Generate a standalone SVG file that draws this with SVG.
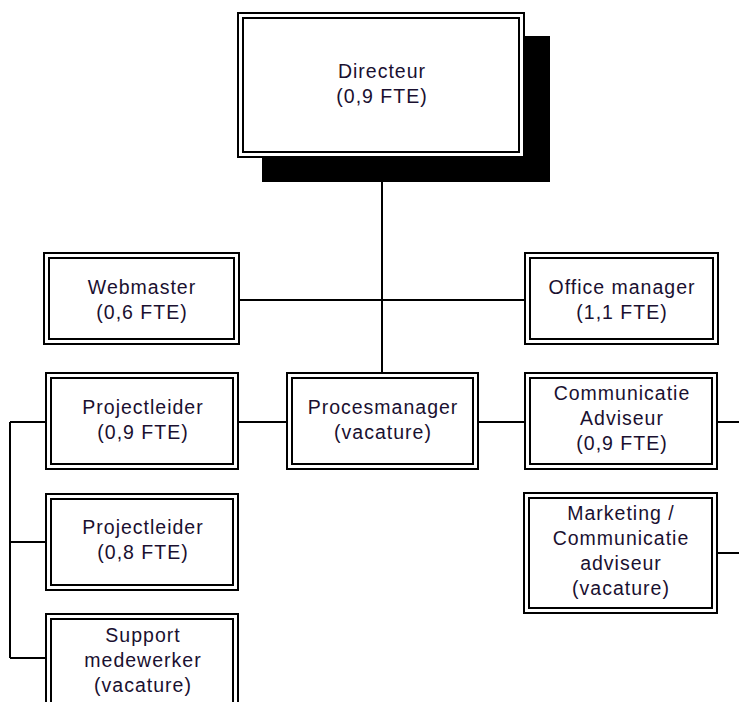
<svg xmlns="http://www.w3.org/2000/svg" width="739" height="702" viewBox="0 0 739 702">
<style>
.o{fill:#fff;stroke:#000;stroke-width:2}
.i{fill:none;stroke:#000;stroke-width:2}
.t{font-family:"Liberation Sans",Arial,sans-serif;font-size:19.5px;letter-spacing:1px;fill:#1a1030;text-anchor:middle}
.c{fill:none;stroke:#000;stroke-width:2}
</style>
<rect width="739" height="702" fill="#fff"/>
<g id="connectors">
<path class="c" d="M382 182V373M239 300H525M238 422H287M478 422H525M717 422H739M10 422H46M10 422V658M10 542H46M10 658H46M716 553H739"/>
</g>
<g id="directeur">
<rect x="262" y="36" width="288" height="146" fill="#000"/>
<rect class="o" x="238" y="13" width="286" height="144"/>
<rect class="i" x="243" y="18" width="276" height="134"/>
<text class="t" x="382" y="78">Directeur</text>
<text class="t" x="382" y="103">(0,9 FTE)</text>
</g>
<g id="webmaster">
<rect class="o" x="44" y="253" width="195" height="91"/>
<rect class="i" x="49" y="258" width="185" height="81"/>
<text class="t" x="142" y="294">Webmaster</text>
<text class="t" x="142" y="319">(0,6 FTE)</text>
</g>
<g id="officemanager">
<rect class="o" x="525" y="253" width="193" height="91"/>
<rect class="i" x="530" y="258" width="183" height="81"/>
<text class="t" x="622" y="294">Office manager</text>
<text class="t" x="622" y="319">(1,1 FTE)</text>
</g>
<g id="projectleider1">
<rect class="o" x="46" y="373" width="192" height="96"/>
<rect class="i" x="51" y="378" width="182" height="86"/>
<text class="t" x="143" y="414">Projectleider</text>
<text class="t" x="143" y="439">(0,9 FTE)</text>
</g>
<g id="procesmanager">
<rect class="o" x="287" y="373" width="191" height="96"/>
<rect class="i" x="292" y="378" width="181" height="86"/>
<text class="t" x="383" y="414">Procesmanager</text>
<text class="t" x="383" y="439">(vacature)</text>
</g>
<g id="communicatie">
<rect class="o" x="525" y="373" width="192" height="96"/>
<rect class="i" x="530" y="378" width="182" height="86"/>
<text class="t" x="622" y="400">Communicatie</text>
<text class="t" x="622" y="425">Adviseur</text>
<text class="t" x="622" y="450">(0,9 FTE)</text>
</g>
<g id="projectleider2">
<rect class="o" x="46" y="494" width="192" height="96"/>
<rect class="i" x="51" y="499" width="182" height="86"/>
<text class="t" x="143" y="534">Projectleider</text>
<text class="t" x="143" y="559">(0,8 FTE)</text>
</g>
<g id="support">
<rect class="o" x="46" y="614" width="192" height="96"/>
<rect class="i" x="51" y="619" width="182" height="86"/>
<text class="t" x="143" y="642">Support</text>
<text class="t" x="143" y="667">medewerker</text>
<text class="t" x="143" y="692">(vacature)</text>
</g>
<g id="marketing">
<rect class="o" x="524" y="493" width="193" height="120"/>
<rect class="i" x="529" y="498" width="183" height="110"/>
<text class="t" x="621" y="520">Marketing /</text>
<text class="t" x="621" y="545">Communicatie</text>
<text class="t" x="621" y="570">adviseur</text>
<text class="t" x="621" y="595">(vacature)</text>
</g>
</svg>
